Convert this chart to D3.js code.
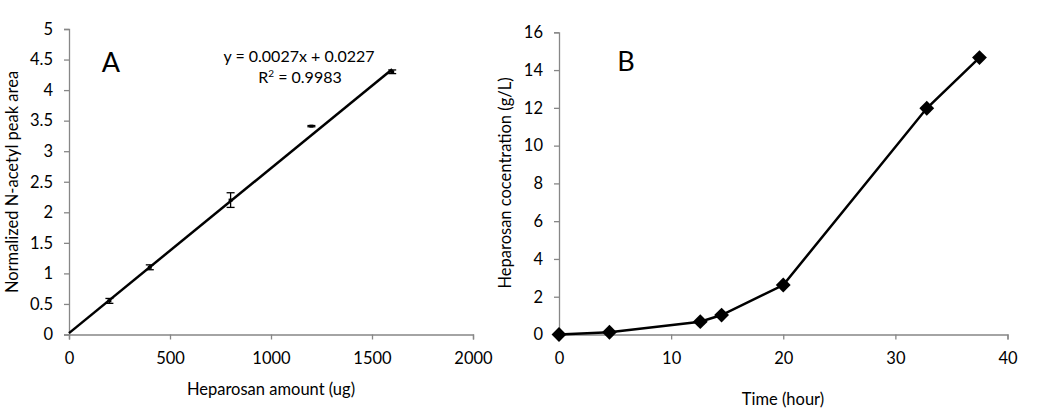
<!DOCTYPE html>
<html><head><meta charset="utf-8">
<script src="https://cdn.jsdelivr.net/npm/d3@7"></script>
<style>body{margin:0;background:#fff}svg{display:block}text{font-family:Lato,"Open Sans",sans-serif;fill:#000}</style>
</head><body><svg id="c" width="1050" height="413"></svg>
<script>
// Panel A data
const amountA = [0, 200, 400, 800, 1200, 1600];
const areaA = [0, 0.55, 1.10, 2.20, 3.41, 4.30];
const errA = [0, 0.04, 0.04, 0.12, 0.01, 0.03];
const fitSlope = 0.0027, fitIntercept = 0.0227;
const xTicksA = [0, 500, 1000, 1500, 2000];
const yTicksA = [0, 0.5, 1, 1.5, 2, 2.5, 3, 3.5, 4, 4.5, 5];
// Panel B data
const timeB = [0, 4.5, 12.6, 14.5, 20, 32.8, 37.5];
const concB = [0, 0.12, 0.68, 1.03, 2.62, 11.98, 14.66];
const xTicksB = [0, 10, 20, 30, 40];
const yTicksB = [0, 2, 4, 6, 8, 10, 12, 14, 16];

const svg = d3.select("#c");
const axisColor = "#878787";
const fs = "16.5px";

function styleAxis(g){
  g.select(".domain").attr("stroke", axisColor).attr("stroke-width", 1.3);
  g.selectAll(".tick line").attr("stroke", axisColor).attr("stroke-width", 1.3);
  g.selectAll(".tick text").style("font-size", fs).attr("fill", "#000");
}

// ---- Panel A ----
const xA = d3.scaleLinear().domain([0, 2000]).range([69, 473]);
const yA = d3.scaleLinear().domain([0, 5]).range([334.5, 29]);
const gA = svg.append("g");
gA.append("g").attr("transform", "translate(0,334.5)")
  .call(d3.axisBottom(xA).tickValues(xTicksA).tickSize(5).tickPadding(13).tickFormat(d3.format("d")))
  .call(styleAxis);
gA.append("g").attr("transform", "translate(69,0)")
  .call(d3.axisLeft(yA).tickValues(yTicksA).tickSize(5).tickPadding(11).tickFormat(d => String(d)))
  .call(styleAxis);
// fit line
gA.append("line")
  .attr("x1", xA(0)).attr("y1", yA(fitIntercept))
  .attr("x2", xA(1600)).attr("y2", yA(fitSlope*1600 + fitIntercept))
  .attr("stroke", "#000").attr("stroke-width", 2.5);
// error bars
const eb = gA.selectAll(".eb").data(amountA.map((a,i)=>({a, v:areaA[i], e:errA[i]})).filter(d=>d.a>0)).enter().append("g");
eb.append("line").attr("x1", d=>xA(d.a)).attr("x2", d=>xA(d.a))
  .attr("y1", d=>yA(d.v+d.e)).attr("y2", d=>yA(d.v-d.e)).attr("stroke","#000").attr("stroke-width",1.3);
eb.append("line").attr("x1", d=>xA(d.a)-4).attr("x2", d=>xA(d.a)+4)
  .attr("y1", d=>yA(d.v+d.e)).attr("y2", d=>yA(d.v+d.e)).attr("stroke","#000").attr("stroke-width",1.3);
eb.append("line").attr("x1", d=>xA(d.a)-4).attr("x2", d=>xA(d.a)+4)
  .attr("y1", d=>yA(d.v-d.e)).attr("y2", d=>yA(d.v-d.e)).attr("stroke","#000").attr("stroke-width",1.3);
eb.append("rect").attr("x", d=>xA(d.a)-2).attr("y", d=>yA(d.v)-1.5).attr("width",4).attr("height",3).attr("fill","#000");
gA.append("text").attr("x", 111).attr("y", 72).attr("text-anchor","middle").style("font-size","27px").text("A");
gA.append("text").attr("x", 299).attr("y", 62).attr("text-anchor","middle").style("font-size","16px").text("y = 0.0027x + 0.0227");
const r2 = gA.append("text").attr("x", 300).attr("y", 83).attr("text-anchor","middle").style("font-size","16px");
r2.append("tspan").text("R");
r2.append("tspan").attr("dy", -6).style("font-size","10px").text("2");
r2.append("tspan").attr("dy", 6).text(" = 0.9983");
gA.append("text").attr("x", 271).attr("y", 395).attr("text-anchor","middle").style("font-size",fs).text("Heparosan amount (ug)");
gA.append("text").attr("transform","translate(18,182) rotate(-90)").attr("text-anchor","middle").style("font-size",fs).text("Normalized N-acetyl peak area");

// ---- Panel B ----
const xB = d3.scaleLinear().domain([0, 40]).range([559, 1007.5]);
const yB = d3.scaleLinear().domain([0, 16]).range([334.5, 32.3]);
const gB = svg.append("g");
gB.append("g").attr("transform", "translate(0,334.5)")
  .call(d3.axisBottom(xB).tickValues(xTicksB).tickSize(5).tickPadding(13).tickFormat(d3.format("d")))
  .call(styleAxis);
gB.append("g").attr("transform", "translate(559,0)")
  .call(d3.axisLeft(yB).tickValues(yTicksB).tickSize(5).tickPadding(11).tickFormat(d3.format("d")))
  .call(styleAxis);
const ptsB = timeB.map((t,i)=>[t, concB[i]]);
gB.append("path").datum(ptsB)
  .attr("d", d3.line().x(d=>xB(d[0])).y(d=>yB(d[1])))
  .attr("fill","none").attr("stroke","#000").attr("stroke-width",2.5);
gB.selectAll(".m").data(ptsB).enter().append("path")
  .attr("transform", d=>`translate(${xB(d[0])},${yB(d[1])})`)
  .attr("d", d3.symbol().type(d3.symbolDiamond2).size(140)).attr("fill","#000");
gB.append("text").attr("x", 626).attr("y", 71).attr("text-anchor","middle").style("font-size","27px").text("B");
gB.append("text").attr("x", 783).attr("y", 405).attr("text-anchor","middle").style("font-size",fs).text("Time (hour)");
gB.append("text").attr("transform","translate(511,183) rotate(-90)").attr("text-anchor","middle").style("font-size",fs).text("Heparosan cocentration (g/L)");
</script></body></html>
